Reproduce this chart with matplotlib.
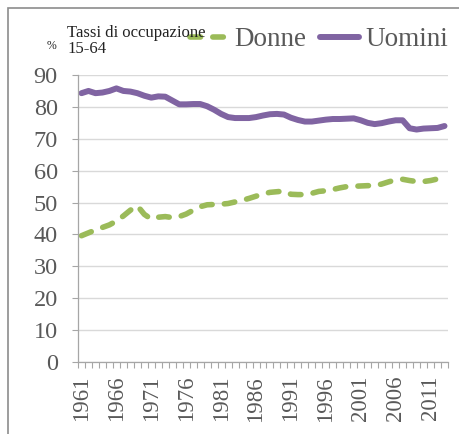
import matplotlib
matplotlib.use("Agg")
import matplotlib.pyplot as plt
from matplotlib.patches import Rectangle
from matplotlib.ticker import MultipleLocator, FixedLocator

years = list(range(1961, 2014))
donne = [39.6, 40.5, 41.4, 42.2, 43.0, 44.2, 45.8, 47.6, 49.0, 46.3,
         44.8, 45.4, 45.6, 45.3, 45.6, 46.4, 47.6, 48.7, 49.3, 49.4,
         49.5, 49.7, 50.2, 50.7, 51.3, 52.0, 52.7, 53.2, 53.4, 53.6,
         52.6, 52.5, 52.5, 52.9, 53.5, 53.7, 54.1, 54.6, 55.0, 55.1,
         55.2, 55.3, 55.3, 55.8, 56.5, 57.1, 57.3, 56.9, 56.6, 56.6,
         56.9, 57.4, 57.9]
uomini = [84.3, 85.0, 84.3, 84.5, 85.0, 85.8, 85.0, 84.8, 84.3, 83.5,
          82.9, 83.3, 83.2, 82.0, 80.8, 80.8, 80.9, 80.9, 80.2, 79.1,
          77.8, 76.8, 76.5, 76.5, 76.5, 76.8, 77.3, 77.7, 77.8, 77.6,
          76.6, 75.9, 75.4, 75.4, 75.7, 76.0, 76.2, 76.2, 76.3, 76.4,
          75.8, 75.0, 74.6, 74.9, 75.4, 75.8, 75.8, 73.3, 72.9, 73.2,
          73.3, 73.4, 74.0]
label_years = [1961, 1966, 1971, 1976, 1981, 1986, 1991, 1996, 2001, 2006, 2011]
series_names = ["Donne", "Uomini"]

green = "#9BBB59"
purple = "#8064A2"
grey_txt = "#595959"
serif = ["Liberation Serif", "DejaVu Serif"]

fig = plt.figure(figsize=(4.59, 4.34), dpi=100)
ax = fig.add_axes([78/459, 1-362/434, (448-78)/459, (362-75)/434])

ax.plot(years, donne, color=green, lw=4.0, linestyle=(0, (1.9, 2.2)),
        dash_capstyle="round", solid_capstyle="round", label=series_names[0])
ax.plot(years, uomini, color=purple, lw=4.3, solid_capstyle="round",
        solid_joinstyle="round", label=series_names[1])

ax.set_xlim(1960.5, 2013.5)
ax.set_ylim(0, 90)
ax.yaxis.set_major_locator(MultipleLocator(10))
ax.grid(axis="y", color="#D9D9D9", lw=1.0)
ax.set_axisbelow(True)

ax.set_xticks(label_years)
ax.set_xticklabels([str(y) for y in label_years], rotation=90,
                   fontfamily=serif, fontsize=16.5, color=grey_txt)
ax.xaxis.set_minor_locator(FixedLocator([y + 0.5 for y in range(1960, 2014)]))
ax.tick_params(axis="x", which="major", length=0, pad=10)
ax.tick_params(axis="x", which="minor", length=4.5, color="#A6A6A6", width=0.8)
ax.tick_params(axis="y", which="major", length=4.5, color="#A6A6A6", width=0.8,
               pad=10, labelsize=17.5, labelcolor=grey_txt)
for lab in ax.get_yticklabels():
    lab.set_fontfamily(serif)

for s in ["top", "right"]:
    ax.spines[s].set_visible(False)
for s in ["left", "bottom"]:
    ax.spines[s].set_color("#A6A6A6")
    ax.spines[s].set_linewidth(0.9)

leg = ax.legend(loc="center left", bbox_to_anchor=(190/459, 1-40/434),
                bbox_transform=fig.transFigure, ncol=2, frameon=False,
                borderpad=0, borderaxespad=0, handlelength=1.45,
                handletextpad=0.2, columnspacing=0.5,
                prop={"family": serif, "size": 19.5})
for t in leg.get_texts():
    t.set_color(grey_txt)

fig.text(47/459, 1-46/434, "%", fontfamily=serif, fontsize=8.5,
         color="#222222", va="center", ha="left")
fig.text(67/459, 1-33/434, "Tassi di occupazione", fontfamily=serif,
         fontsize=12, color="#222222", va="center", ha="left")
fig.text(67/459, 1-49/434, "15-64", fontfamily=serif,
         fontsize=12, color="#222222", va="center", ha="left")

fig.patches.append(Rectangle((8/459, -0.2), 1.5, 1.2 - 8/434,
                             transform=fig.transFigure, fill=False,
                             edgecolor="#8C8C8C", lw=1.2))

fig.savefig("out.png", dpi=100)
